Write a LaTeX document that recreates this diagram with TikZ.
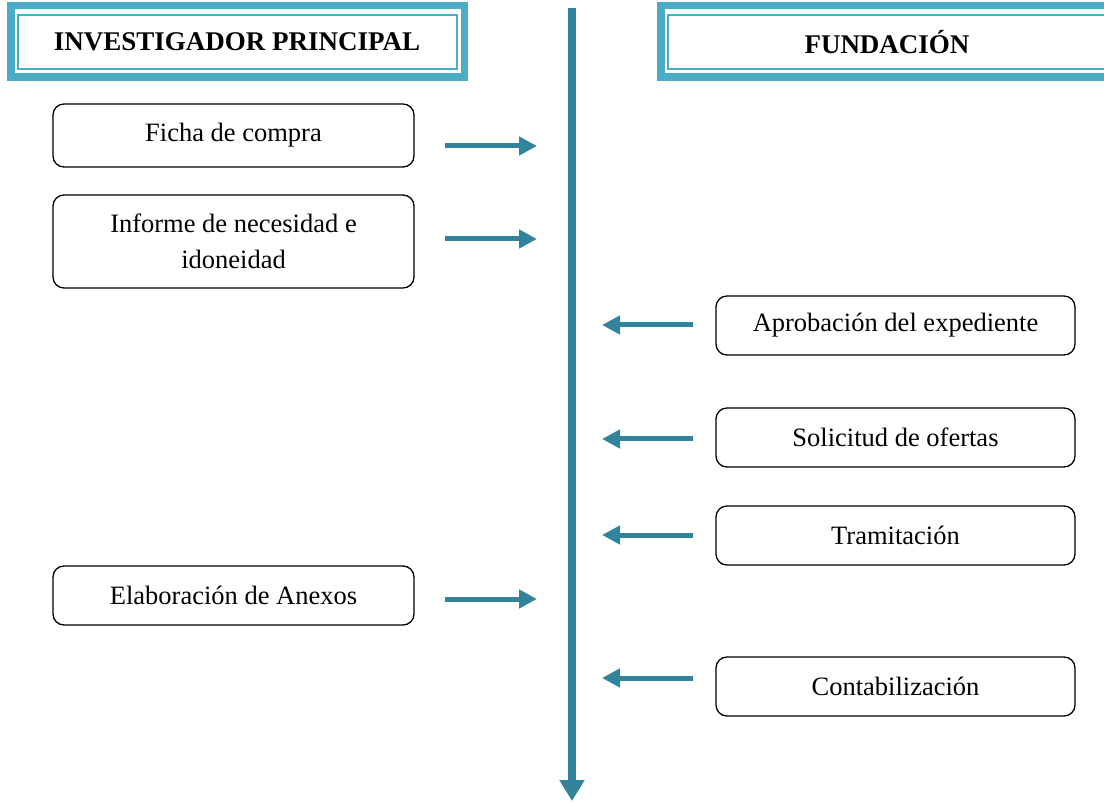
\documentclass[tikz,border=0pt]{standalone}
\usepackage{fontspec}
\setmainfont{Liberation Serif}
\usetikzlibrary{arrows.meta}
\definecolor{band}{HTML}{4BACC6}
\definecolor{arr}{HTML}{31849B}
\tikzset{
  stepbox/.style={draw=black, line width=1.3pt, rounded corners=11pt, fill=white,
    font=\fontsize{26.5}{36}\selectfont, align=center, inner sep=0pt},
  leftbox/.style={stepbox, minimum width=361pt},
  rightbox/.style={stepbox, minimum width=359pt, minimum height=59pt},
  flow/.style={draw=arr, line width=5pt, -{Triangle[length=18pt,width=18pt]}},
  headtext/.style={font=\fontsize{27}{30}\selectfont\bfseries, inner sep=0pt},
}
\begin{document}
\begin{tikzpicture}[x=1pt,y=-1pt]
\useasboundingbox (0,0) rectangle (1104,802);
\clip (0,0) rectangle (1104,802);
% header boxes
\draw[band, line width=7.5pt] (11,5.5) rectangle (464.5,77);
\draw[band, line width=2.2pt] (18,15) rectangle (457,69);
\node[headtext] (hl) at (237,42) {INVESTIGADOR PRINCIPAL};
\draw[band, line width=7.5pt] (661,5.5) rectangle (1120,77);
\draw[band, line width=2.2pt] (668,15) rectangle (1112,69);
\node[headtext] (hr) at (887,42) {FUNDACIÓN};
% timeline
\coordinate (top) at (572,8);
\coordinate (bot) at (572,801);
\draw[draw=arr, line width=8pt, -{Triangle[length=21pt,width=24pt]}] (top) -- (bot);
% left boxes
\node[leftbox, minimum height=63pt] (b1) at (233.5,135.5) {Ficha de compra};
\node[leftbox, minimum height=93pt] (b2) at (233.5,241.5) {Informe de necesidad e\\idoneidad};
\node[leftbox, minimum height=59pt] (b3) at (233.5,595.5) {Elaboración de Anexos};
% right boxes
\node[rightbox] (r1) at (895.5,325.5) {Aprobación del expediente};
\node[rightbox] (r2) at (895.5,437.5) {Solicitud de ofertas};
\node[rightbox] (r3) at (895.5,535.5) {Tramitación};
\node[rightbox] (r4) at (895.5,686.5) {Contabilización};
% arrow coordinates
\coordinate (a1s) at (445,146); \coordinate (a1e) at (537,146);
\coordinate (a2s) at (445,239); \coordinate (a2e) at (537,239);
\coordinate (a3s) at (445,599); \coordinate (a3e) at (537,599);
\coordinate (c1s) at (693,325); \coordinate (c1e) at (602,325);
\coordinate (c2s) at (693,439); \coordinate (c2e) at (602,439);
\coordinate (c3s) at (693,535); \coordinate (c3e) at (602,535);
\coordinate (c4s) at (693,678); \coordinate (c4e) at (602,678);
\draw[flow] (a1s) -- (a1e);
\draw[flow] (a2s) -- (a2e);
\draw[flow] (a3s) -- (a3e);
\draw[flow] (c1s) -- (c1e);
\draw[flow] (c2s) -- (c2e);
\draw[flow] (c3s) -- (c3e);
\draw[flow] (c4s) -- (c4e);
\end{tikzpicture}
\end{document}
